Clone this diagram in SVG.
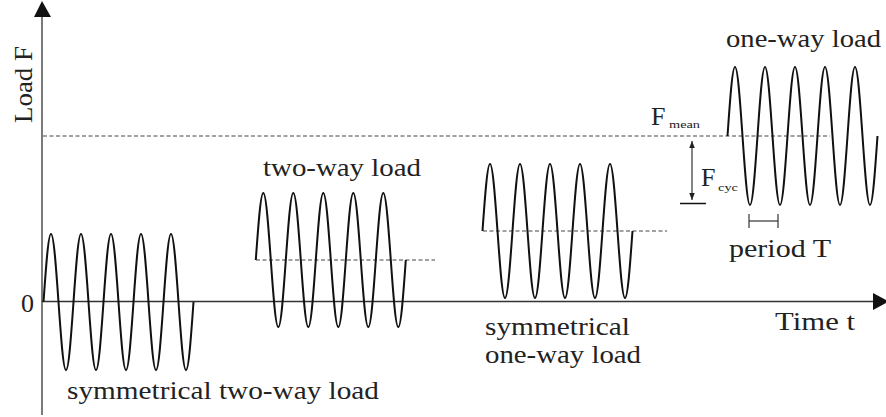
<svg xmlns="http://www.w3.org/2000/svg" width="886" height="417" viewBox="0 0 886 417">
<style>
.wave{fill:none;stroke:#111;stroke-width:2;stroke-linejoin:round}
.axis{fill:none;stroke:#333;stroke-width:1.3}
.dash{fill:none;stroke:#444;stroke-width:1;stroke-dasharray:4 2.5}
.lbl{font-size:26px;fill:#222}
.sub{font-size:11px;fill:#222}
.dim{fill:none;stroke:#333;stroke-width:1.2}
</style>
<defs>
<marker id="ah" viewBox="0 0 10 10" refX="10" refY="5" markerWidth="7" markerHeight="7" markerUnits="userSpaceOnUse" orient="auto-start-reverse">
<path d="M0,1 L10,5 L0,9 Z" fill="#222"/>
</marker>
</defs>
<g id="connectors">
<g id="axes">
<line class="axis" x1="42" y1="415" x2="42" y2="14"/>
<polygon points="42,1 34,17 51,17" fill="#111"/>
<line class="axis" x1="42" y1="301.5" x2="876" y2="301.5"/>
<polygon points="889,301.5 873,293 873,310" fill="#111"/>
</g>
<g id="mean-lines">
<line class="dash" x1="43" y1="136" x2="830" y2="136"/>
<line class="dash" x1="256" y1="260" x2="435" y2="260"/>
<line class="dash" x1="483" y1="231" x2="667" y2="231"/>
</g>
<g id="fcyc-dim">
<line class="dim" x1="692" y1="141" x2="692" y2="200" marker-start="url(#ah)" marker-end="url(#ah)"/>
<line x1="680" y1="203.5" x2="706" y2="203.5" stroke="#111" stroke-width="1.5"/>
</g>
<g id="period-dim">
<line class="dim" x1="749" y1="221" x2="778" y2="221"/>
<line class="dim" x1="749" y1="214" x2="749" y2="228"/>
<line class="dim" x1="778" y1="214" x2="778" y2="228"/>
</g>
</g>
<g font-family="Liberation Serif, serif">
<g id="wave-symmetrical-two-way">
<path class="wave" d="M43.5,302 c2.444,-34.8 4.785,-68 7.5,-68 s5.056,33.2 7.5,68 s4.785,68 7.5,68 s5.056,-33.2 7.5,-68 s4.785,-68 7.5,-68 s5.056,33.2 7.5,68 s4.785,68 7.5,68 s5.056,-33.2 7.5,-68 s4.785,-68 7.5,-68 s5.056,33.2 7.5,68 s4.785,68 7.5,68 s5.056,-33.2 7.5,-68 s4.785,-68 7.5,-68 s5.056,33.2 7.5,68 s4.785,68 7.5,68 s5.056,-33.2 7.5,-68 s4.785,-68 7.5,-68 s5.056,33.2 7.5,68 s4.785,68 7.5,68 s5.056,-33.2 7.5,-68"/>
<text class="lbl" x="67" y="399" textLength="312" lengthAdjust="spacingAndGlyphs">symmetrical two-way load</text>
</g>
<g id="wave-two-way">
<path class="wave" d="M255.8,260 c2.444,-34.29 4.785,-67 7.5,-67 s5.056,32.71 7.5,67 s4.785,67 7.5,67 s5.056,-32.71 7.5,-67 s4.785,-67 7.5,-67 s5.056,32.71 7.5,67 s4.785,67 7.5,67 s5.056,-32.71 7.5,-67 s4.785,-67 7.5,-67 s5.056,32.71 7.5,67 s4.785,67 7.5,67 s5.056,-32.71 7.5,-67 s4.785,-67 7.5,-67 s5.056,32.71 7.5,67 s4.785,67 7.5,67 s5.056,-32.71 7.5,-67 s4.785,-67 7.5,-67 s5.056,32.71 7.5,67 s4.785,67 7.5,67 s5.056,-32.71 7.5,-67"/>
<text class="lbl" x="263" y="176" textLength="158" lengthAdjust="spacingAndGlyphs">two-way load</text>
</g>
<g id="wave-symmetrical-one-way">
<path class="wave" d="M482.5,231 c2.444,-34.29 4.785,-67 7.5,-67 s5.056,32.71 7.5,67 s4.785,67 7.5,67 s5.056,-32.71 7.5,-67 s4.785,-67 7.5,-67 s5.056,32.71 7.5,67 s4.785,67 7.5,67 s5.056,-32.71 7.5,-67 s4.785,-67 7.5,-67 s5.056,32.71 7.5,67 s4.785,67 7.5,67 s5.056,-32.71 7.5,-67 s4.785,-67 7.5,-67 s5.056,32.71 7.5,67 s4.785,67 7.5,67 s5.056,-32.71 7.5,-67 s4.785,-67 7.5,-67 s5.056,32.71 7.5,67 s4.785,67 7.5,67 s5.056,-32.71 7.5,-67"/>
<text class="lbl" x="485" y="335" textLength="145" lengthAdjust="spacingAndGlyphs">symmetrical</text>
<text class="lbl" x="485" y="363" textLength="156" lengthAdjust="spacingAndGlyphs">one-way load</text>
</g>
<g id="wave-one-way">
<path class="wave" d="M727.5,136 c2.444,-35.31 4.785,-69 7.5,-69 s5.056,33.690 7.5,69 s4.785,69 7.5,69 s5.056,-33.69 7.5,-69 s4.785,-69 7.5,-69 s5.056,33.69 7.5,69 s4.785,69 7.5,69 s5.056,-33.69 7.5,-69 s4.785,-69 7.5,-69 s5.056,33.69 7.5,69 s4.785,69 7.5,69 s5.056,-33.69 7.5,-69 s4.785,-69 7.5,-69 s5.056,33.69 7.5,69 s4.785,69 7.5,69 s5.056,-33.69 7.5,-69 s4.785,-69 7.5,-69 s5.056,33.69 7.5,69 s4.785,69 7.5,69 s5.056,-33.69 7.5,-69"/>
<text class="lbl" x="726" y="47" textLength="155" lengthAdjust="spacingAndGlyphs">one-way load</text>
</g>
<g id="labels">
<text class="lbl" transform="translate(32,123) rotate(-90)" textLength="77" lengthAdjust="spacingAndGlyphs">Load F</text>
<text class="lbl" x="21" y="312">0</text>
<text class="lbl" x="775" y="330" textLength="80" lengthAdjust="spacingAndGlyphs">Time t</text>
<text class="lbl" x="729" y="257" textLength="102" lengthAdjust="spacingAndGlyphs">period T</text>
<text class="lbl" x="651" y="125">F</text>
<text class="sub" x="669" y="128" textLength="31" lengthAdjust="spacingAndGlyphs">mean</text>
<text class="lbl" x="701" y="186">F</text>
<text class="sub" x="718" y="191" textLength="20" lengthAdjust="spacingAndGlyphs">cyc</text>
</g>
</g>
</svg>
